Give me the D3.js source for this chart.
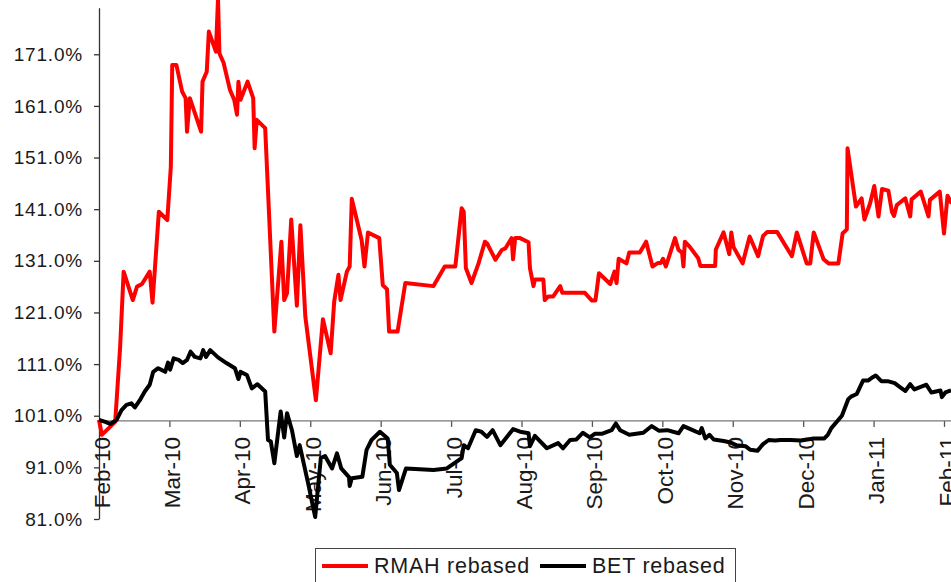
<!DOCTYPE html>
<html>
<head>
<meta charset="utf-8">
<script src="https://cdn.jsdelivr.net/npm/d3@7"></script>
<style>
  body { margin: 0; background: #fff; }
  text { font-family: "Liberation Sans", Arial, Helvetica, sans-serif; fill: #1a1a1a; }
</style>
</head>
<body>
<svg id="chart" width="951" height="582"></svg>
<script>
// Month tick labels, one every 12th of the year (x position = months since Feb-10)
const monthLabels = ["Feb-10", "Mar-10", "Apr-10", "May-10", "Jun-10", "Jul-10", "Aug-10",
                     "Sep-10", "Oct-10", "Nov-10", "Dec-10", "Jan-11", "Feb-11"];

// Value axis ticks (%)
const yTicks = [81, 91, 101, 111, 121, 131, 141, 151, 161, 171];

const seriesNames = ["RMAH rebased", "BET rebased"];
const seriesColors = ["#ff0000", "#000000"];

// RMAH rebased: [months since Feb-10, % of start]
const rmah = [
  [0.00,100.2],[0.04,97.3],[0.23,99.8],[0.30,114.3],[0.35,128.9],[0.48,123.4],[0.54,126.0],[0.61,126.5],
  [0.72,128.9],[0.76,122.9],[0.85,140.5],[0.97,138.9],[1.02,149.2],[1.04,168.9],[1.10,168.9],[1.18,163.8],
  [1.23,162.5],[1.25,156.0],[1.29,162.5],[1.45,156.0],[1.47,165.7],[1.53,167.6],[1.56,175.4],[1.66,171.5],
  [1.69,181.7],[1.71,171.2],[1.77,169.3],[1.86,164.1],[1.92,162.2],[1.96,159.3],[1.98,165.7],[2.01,162.2],
  [2.11,165.7],[2.19,162.5],[2.21,152.8],[2.24,158.3],[2.36,156.7],[2.49,117.3],[2.59,134.7],[2.63,123.4],
  [2.67,124.7],[2.73,139.0],[2.81,122.3],[2.86,137.9],[2.93,120.2],[3.08,104.0],[3.18,119.7],[3.29,113.1],
  [3.34,123.1],[3.40,128.3],[3.43,123.4],[3.52,128.9],[3.56,129.9],[3.59,143.0],[3.73,135.0],[3.77,129.9],
  [3.82,136.5],[3.98,135.4],[4.03,126.3],[4.09,125.5],[4.12,117.3],[4.24,117.3],[4.35,126.7],[4.75,126.1],
  [4.91,129.9],[5.06,129.9],[5.15,141.2],[5.18,140.5],[5.21,129.6],[5.29,126.7],[5.39,130.5],[5.48,134.7],
  [5.51,134.4],[5.63,131.2],[5.72,133.1],[5.77,133.4],[5.86,135.4],[5.88,131.3],[5.91,135.4],[5.98,135.4],
  [6.10,134.6],[6.12,129.6],[6.17,126.1],[6.19,127.4],[6.31,127.4],[6.33,123.4],[6.38,124.1],[6.45,124.1],
  [6.55,126.1],[6.58,124.8],[6.90,124.8],[7.00,123.3],[7.05,123.3],[7.10,128.6],[7.26,126.5],[7.32,128.9],
  [7.35,126.7],[7.38,131.4],[7.49,130.5],[7.53,132.6],[7.68,132.6],[7.77,134.7],[7.86,129.9],[7.94,130.6],
  [7.98,130.6],[8.01,131.4],[8.05,129.9],[8.18,135.4],[8.23,133.1],[8.28,132.6],[8.30,129.9],[8.32,134.7],
  [8.39,133.7],[8.51,131.5],[8.54,130.0],[8.75,130.0],[8.76,133.2],[8.87,136.5],[8.95,132.3],[8.98,136.5],
  [9.01,133.7],[9.14,130.5],[9.24,135.7],[9.36,131.9],[9.43,135.8],[9.49,136.6],[9.63,136.6],[9.84,131.9],
  [9.91,136.5],[10.05,130.5],[10.10,130.5],[10.15,136.5],[10.29,131.3],[10.36,130.5],[10.50,130.5],[10.56,136.3],
  [10.62,137.1],[10.63,152.8],[10.75,141.5],[10.83,143.1],[10.87,139.0],[10.95,142.1],[11.01,145.5],[11.07,139.6],
  [11.12,144.9],[11.21,144.6],[11.26,140.5],[11.29,139.7],[11.33,141.8],[11.45,143.1],[11.52,139.6],[11.54,142.9],
  [11.67,144.4],[11.78,139.6],[11.80,142.8],[11.94,144.4],[12.00,136.3],[12.05,143.6],[12.11,142.1]
];

// BET rebased: [months since Feb-10, % of start]
const bet = [
  [0.00,100.2],[0.09,99.8],[0.16,99.4],[0.25,100.2],[0.32,102.1],[0.39,103.1],[0.46,103.4],[0.51,102.6],
  [0.58,104.0],[0.65,105.7],[0.72,107.0],[0.77,109.5],[0.84,110.2],[0.94,109.5],[0.98,111.3],[1.01,109.9],
  [1.06,112.1],[1.13,111.8],[1.19,111.2],[1.25,111.8],[1.30,113.4],[1.36,112.4],[1.44,112.1],[1.48,113.7],
  [1.52,112.4],[1.58,113.7],[1.69,112.3],[1.81,111.2],[1.93,110.2],[1.98,108.1],[2.01,109.5],[2.10,108.9],
  [2.17,106.3],[2.25,107.1],[2.36,105.7],[2.40,96.3],[2.44,96.0],[2.49,91.8],[2.58,101.8],[2.63,96.8],
  [2.67,101.5],[2.74,98.2],[2.81,93.2],[2.85,95.3],[2.97,87.9],[3.07,81.4],[3.15,92.8],[3.21,93.2],
  [3.31,90.8],[3.38,93.7],[3.44,90.8],[3.55,89.1],[3.56,87.4],[3.59,88.9],[3.74,89.2],[3.80,94.4],
  [3.87,96.3],[3.99,97.9],[4.10,96.6],[4.13,91.5],[4.23,89.9],[4.26,86.6],[4.36,90.8],[4.75,90.5],
  [4.94,90.8],[5.15,92.8],[5.18,95.3],[5.24,94.7],[5.35,98.2],[5.43,97.9],[5.51,96.9],[5.59,98.2],
  [5.70,95.3],[5.88,98.4],[5.98,97.9],[6.10,97.6],[6.12,95.1],[6.19,97.1],[6.36,94.7],[6.52,95.7],
  [6.59,94.7],[6.69,96.3],[6.78,96.4],[6.87,97.7],[6.97,96.8],[7.04,97.5],[7.14,97.5],[7.28,98.2],
  [7.34,99.5],[7.40,98.2],[7.53,97.3],[7.73,97.7],[7.85,99.0],[7.95,98.1],[8.07,98.2],[8.23,97.6],
  [8.30,99.0],[8.43,98.2],[8.53,97.6],[8.56,98.6],[8.61,96.6],[8.67,97.3],[8.73,96.4],[8.87,96.1],
  [8.97,95.8],[9.05,95.3],[9.18,95.1],[9.25,94.4],[9.35,94.2],[9.43,95.5],[9.51,96.3],[9.60,96.2],
  [9.68,96.3],[9.82,96.3],[9.97,96.2],[10.15,96.6],[10.30,96.6],[10.35,97.3],[10.40,98.6],[10.55,101.0],
  [10.64,104.2],[10.68,104.7],[10.76,105.2],[10.85,107.8],[10.92,107.8],[10.97,108.3],[11.03,108.8],[11.11,107.7],
  [11.20,107.7],[11.30,107.3],[11.37,106.6],[11.45,105.8],[11.52,107.1],[11.58,106.1],[11.67,106.6],[11.75,107.0],
  [11.82,105.5],[11.95,105.9],[11.97,104.6],[12.02,105.5],[12.10,105.9]
];

const svg = d3.select("#chart");
const W = 951;

const x = d3.scaleLinear().domain([0, 12]).range([99, 944]);
const y = d3.scaleLinear().domain([81, 180]).range([519, 7.8]);

// value axis
const yAxis = svg.append("g")
  .attr("transform", `translate(${x(0)},0)`)
  .call(d3.axisLeft(y).tickValues(yTicks).tickSize(5).tickSizeOuter(0)
        .tickFormat(d => d.toFixed(1) + "%"));
yAxis.select(".domain").attr("stroke", "#333").attr("stroke-width", 1.3);
yAxis.selectAll(".tick line").attr("stroke", "#333").attr("stroke-width", 1.3);
yAxis.selectAll(".tick text")
  .attr("x", -16)
  .style("font-size", "19px")
  .style("letter-spacing", "0.8px")
  .style("fill", "#1a1a1a");

// category axis crossing at 100%
const xAxis = svg.append("g")
  .attr("transform", `translate(0,${y(100)})`)
  .call(d3.axisBottom(x).tickValues(d3.range(monthLabels.length)).tickSize(6).tickSizeOuter(0)
        .tickFormat(i => monthLabels[i]));
xAxis.select(".domain").remove();
xAxis.append("line")
  .attr("x1", x(0)).attr("x2", W)
  .attr("stroke", "#777").attr("stroke-width", 1.3);
xAxis.selectAll(".tick line").attr("stroke", "#555").attr("stroke-width", 1.3);
xAxis.selectAll(".tick text")
  .attr("transform", "rotate(-90)")
  .attr("text-anchor", "end")
  .attr("x", -16)
  .attr("y", 10)
  .attr("dy", null)
  .style("font-size", "22.5px")
  .style("fill", "#1a1a1a");

// series lines
const line = d3.line().x(d => x(d[0])).y(d => y(d[1]));
[rmah, bet].forEach((data, i) => {
  svg.append("path")
    .datum(data)
    .attr("fill", "none")
    .attr("stroke", seriesColors[i])
    .attr("stroke-width", 4)
    .attr("stroke-linejoin", "round")
    .attr("d", line);
});

// legend
const legend = svg.append("g").attr("transform", "translate(315,548)");
legend.append("rect")
  .attr("x", 0.5).attr("y", 0.5)
  .attr("width", 420).attr("height", 42)
  .attr("fill", "#fff").attr("stroke", "#444").attr("stroke-width", 1);
const entryX = [7, 225];
seriesNames.forEach((name, i) => {
  const g = legend.append("g").attr("transform", `translate(${entryX[i]},0)`);
  g.append("line")
    .attr("x1", 0).attr("x2", 46)
    .attr("y1", 18).attr("y2", 18)
    .attr("stroke", seriesColors[i]).attr("stroke-width", 4);
  g.append("text")
    .attr("x", 52).attr("y", 25)
    .style("font-size", "21.5px")
    .style("letter-spacing", "0.75px")
    .text(name);
});
</script>
</body>
</html>
